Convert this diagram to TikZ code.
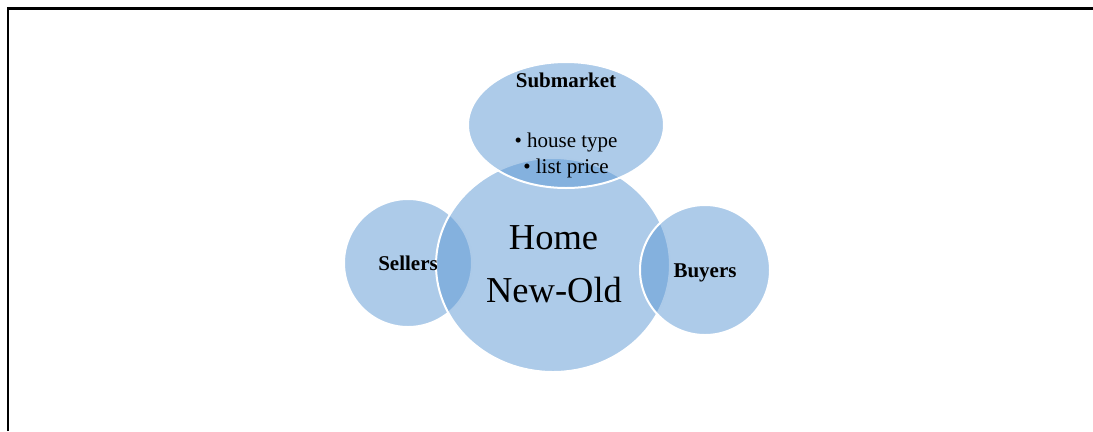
\documentclass[tikz,border=0pt]{standalone}
\usepackage{fontspec}
\setmainfont{Liberation Serif}
\usetikzlibrary{shapes.geometric}
\definecolor{blobblue}{RGB}{91,151,211}
\tikzset{
  blob/.style={ellipse, inner sep=0pt, outer sep=0pt, fill=blobblue, fill opacity=0.5,
               draw=white, draw opacity=1, line width=2bp},
  small/.style={anchor=base, inner sep=0pt, text=black, font=\fontsize{21bp}{26bp}\selectfont},
  large/.style={anchor=base, inner sep=0pt, text=black, font=\fontsize{36.5bp}{44bp}\selectfont},
  frameline/.style={line width=2.8bp, black}
}
\begin{document}
\begin{tikzpicture}[x=1bp,y=-1bp]
  \useasboundingbox (0,0) rectangle (1093,431);
  % page frame (top and left edges)
  \coordinate (fbl) at (8,431);
  \coordinate (ftl) at (8,8.8);
  \coordinate (ftr) at (1093,8.8);
  \draw[frameline] (fbl) -- (ftl) -- (ftr);

  % overlapping ellipses, back to front
  \node[blob, minimum width=128bp, minimum height=128bp] (sellers) at (408,263) {};
  \node[blob, minimum width=234bp, minimum height=214bp] (home) at (553,265) {};
  \node[blob, minimum width=130bp, minimum height=130bp] (buyers) at (705,270) {};
  \node[blob, minimum width=196bp, minimum height=126bp] (submarket) at (566,125) {};

  % labels
  \node[small] (subtitle) at (566,87) {\bfseries Submarket};
  \node[small] (item1) at (566,147) {\textbullet\ house type};
  \node[small] (item2) at (566,173) {\textbullet\ list price};
  \node[large] (home1) at (553.5,249) {Home};
  \node[large] (home2) at (554,302) {New-Old};
  \node[small] (sellerstxt) at (408,270) {\bfseries Sellers};
  \node[small] (buyerstxt) at (705,277) {\bfseries Buyers};
\end{tikzpicture}
\end{document}
